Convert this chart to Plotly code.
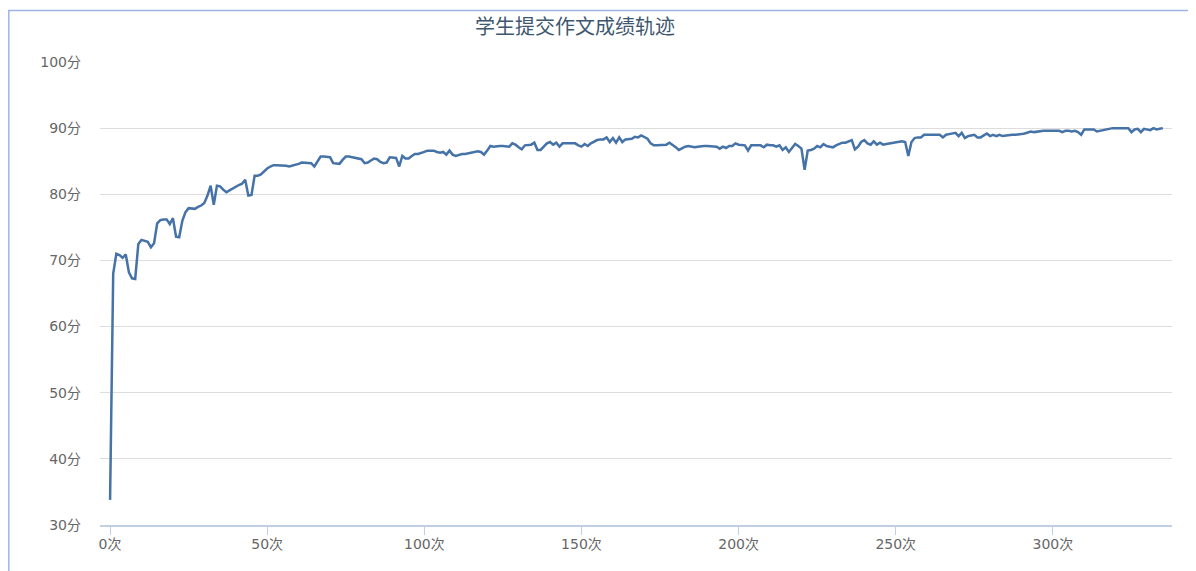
import plotly.graph_objects as go

title_text = "学生提交作文成绩轨迹"

scores_0_52 = [33.8, 68.0, 71.0, 70.8, 70.4, 70.9, 68.2, 67.3, 67.2, 72.5,
               73.1, 73.0, 72.8, 72.0, 72.6, 75.6, 76.1, 76.2, 76.2, 75.5,
               76.4, 73.6, 73.5, 76.0, 77.3, 77.9, 77.9, 77.8, 78.1, 78.3,
               78.7, 79.8, 81.3, 78.4, 81.3, 81.2, 80.7, 80.3, 80.6, 80.9,
               81.2, 81.4, 81.6, 82.2, 79.8, 79.9, 82.8, 82.8, 83.0, 83.5,
               83.9, 84.2, 84.4]
scores_53_124 = [84.4, 84.4, 84.4, 84.3, 84.2, 84.3, 84.5, 84.6, 84.8, 84.8,
                 84.8, 84.7, 84.2, 85.0, 85.7, 85.7, 85.7, 85.6, 84.7, 84.6,
                 84.6, 85.2, 85.7, 85.7, 85.6, 85.6, 85.5, 85.3, 84.7, 84.8,
                 85.1, 85.4, 85.3, 84.9, 84.7, 84.8, 85.6, 85.5, 85.5, 84.2,
                 85.8, 85.4, 85.4, 85.8, 86.1, 86.1, 86.2, 86.4, 86.6, 86.6,
                 86.6, 86.4, 86.3, 86.4, 86.0, 86.6, 86.0, 85.8, 86.0, 86.1,
                 86.1, 86.2, 86.3, 86.4, 86.5, 86.4, 86.0, 86.6, 87.3, 87.2,
                 87.3, 87.3]
scores_125_192 = [87.3, 87.3, 87.2, 87.7, 87.5, 87.1, 86.8, 87.4, 87.4, 87.5,
                  87.8, 86.7, 86.7, 87.2, 87.7, 87.9, 87.5, 87.8, 87.2, 87.7,
                  87.7, 87.7, 87.6, 87.7, 87.4, 87.2, 87.6, 87.3, 87.7, 88.0,
                  88.2, 88.3, 88.3, 88.6, 87.9, 88.5, 87.8, 88.6, 87.9, 88.3,
                  88.4, 88.4, 88.7, 88.6, 88.9, 88.7, 88.4, 87.7, 87.4, 87.4,
                  87.4, 87.4, 87.5, 87.8, 87.5, 87.1, 86.7, 87.0, 87.2, 87.3,
                  87.2, 87.1, 87.2, 87.3, 87.3, 87.3, 87.3, 87.2]
scores_193_263 = [87.2, 86.9, 87.2, 87.0, 87.3, 87.3, 87.7, 87.5, 87.4, 87.4,
                  86.6, 87.4, 87.4, 87.4, 87.4, 87.1, 87.5, 87.4, 87.4, 87.2,
                  87.4, 86.7, 87.1, 86.4, 87.0, 87.6, 87.3, 86.9, 83.7, 86.6,
                  86.7, 86.9, 87.3, 87.1, 87.6, 87.3, 87.2, 87.1, 87.4, 87.6,
                  87.8, 87.8, 88.0, 88.2, 86.8, 87.2, 87.9, 88.2, 87.7, 87.5,
                  88.0, 87.5, 87.8, 87.5, 87.6, 87.7, 87.8, 87.9, 88.0, 88.0,
                  87.9, 85.8, 87.9, 88.5, 88.6, 88.6, 89.0, 89.0, 89.0, 89.0,
                  89.1]
scores_264_335 = [89.0, 88.6, 89.0, 89.1, 89.2, 89.3, 88.8, 89.3, 88.5, 88.8,
                  88.9, 89.0, 88.6, 88.6, 88.9, 89.2, 88.8, 89.0, 88.8, 89.0,
                  88.8, 88.9, 89.0, 89.0, 89.0, 89.0, 89.1, 89.2, 89.3, 89.5,
                  89.4, 89.5, 89.6, 89.6, 89.6, 89.6, 89.6, 89.7, 89.6, 89.4,
                  89.6, 89.6, 89.5, 89.6, 89.4, 89.0, 89.8, 89.8, 89.8, 89.8,
                  89.5, 89.6, 89.7, 89.9, 90.0, 90.0, 90.0, 90.0, 90.0, 90.0,
                  90.0, 89.4, 89.8, 89.9, 89.4, 89.9, 89.8, 89.7, 90.0, 89.8,
                  89.9, 90.0]

scores = scores_0_52 + scores_53_124 + scores_125_192 + scores_193_263 + scores_264_335
attempts = list(range(len(scores)))

y_ticks = [30, 40, 50, 60, 70, 80, 90, 100]
y_labels = ["30分", "40分", "50分", "60分", "70分", "80分", "90分", "100分"]
x_ticks = [0, 50, 100, 150, 200, 250, 300]
x_labels = ["0次", "50次", "100次", "150次", "200次", "250次", "300次"]

font_family = "DejaVu Sans, Noto Sans CJK SC, sans-serif"

W, H = 1188, 563  # page body margin of 8px offsets the figure

fig = go.Figure()
fig.add_trace(go.Scatter(
    x=attempts, y=scores, mode="lines",
    line=dict(color="#4572A7", width=2.5),
    showlegend=False, hoverinfo="x+y",
))

fig.update_layout(
    width=W, height=H,
    margin=dict(l=92, r=24, t=54, b=46),
    paper_bgcolor="white", plot_bgcolor="white",
    font=dict(family=font_family, color="#666666", size=14),
    title=dict(text=title_text, x=567 / W, xref="container", xanchor="center",
               y=1 - 19 / H, yref="container", yanchor="middle",
               font=dict(family="Noto Sans CJK SC, sans-serif", size=20, color="#3E576F")),
    shapes=[dict(type="rect", xref="paper", yref="paper",
                 x0=(0.8 - 92) / 1072, x1=1.1, y0=-0.2, y1=(463 + 54 - 2.5) / 463,
                 line=dict(color="#9DB4E4", width=1.5), fillcolor="rgba(0,0,0,0)",
                 layer="below")],
)

fig.update_xaxes(
    range=[-3.2, 337.9], tickvals=x_ticks, ticktext=x_labels,
    showgrid=False, zeroline=False,
    showline=True, linecolor="#C0D0E0", linewidth=1.5,
    ticks="outside", ticklen=8, tickcolor="#C0D0E0", tickwidth=1,
    ticklabelstandoff=-3,
    tickfont=dict(family=font_family, size=14, color="#666666"),
)
fig.update_yaxes(
    range=[30, 100], tickvals=y_ticks, ticktext=y_labels,
    showgrid=True, gridcolor="#DDDDDD", gridwidth=1, zeroline=False,
    showline=False, ticks="", ticklabelstandoff=18,
    tickfont=dict(family=font_family, size=14, color="#666666"),
)

fig.write_html("out.html")
